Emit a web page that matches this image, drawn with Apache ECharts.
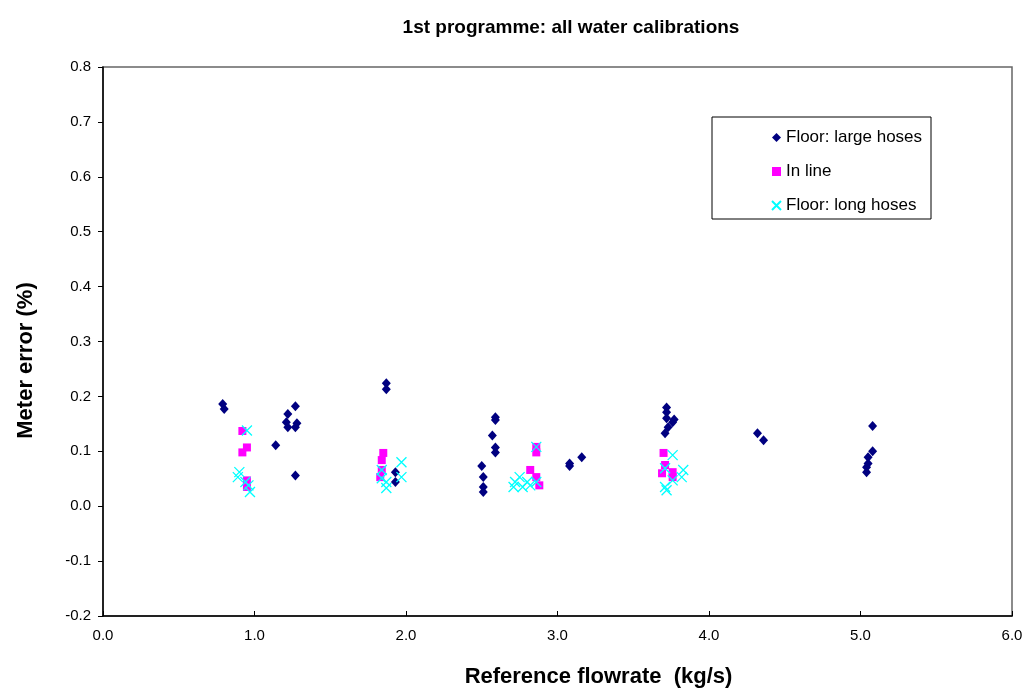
<!DOCTYPE html>
<html>
<head>
<meta charset="utf-8">
<script src="https://cdn.jsdelivr.net/npm/echarts@6/dist/echarts.min.js"></script>
<style>
  html, body { margin: 0; padding: 0; background: #fff; }
  #chart { width: 1027px; height: 688px; }
</style>
</head>
<body>
<div id="chart"></div>
<script>
// Reference flowrate (kg/s) and meter error (%) for each calibration group
const largeHoses = [
  [0.79, 0.186], [0.80, 0.177], [1.14, 0.111],
  [1.27, 0.182], [1.22, 0.168], [1.21, 0.153], [1.28, 0.151], [1.22, 0.144], [1.27, 0.144], [1.27, 0.056],
  [1.87, 0.224], [1.87, 0.213], [1.93, 0.062], [1.93, 0.044],
  [2.59, 0.162], [2.59, 0.157], [2.57, 0.129], [2.59, 0.107], [2.59, 0.098],
  [2.50, 0.073], [2.51, 0.053], [2.51, 0.035], [2.51, 0.026],
  [3.08, 0.078], [3.08, 0.073], [3.16, 0.089],
  [3.72, 0.180], [3.72, 0.171], [3.72, 0.160], [3.76, 0.153], [3.77, 0.158], [3.73, 0.144], [3.71, 0.133],
  [4.32, 0.133], [4.36, 0.120],
  [5.08, 0.146], [5.08, 0.100], [5.05, 0.089], [5.05, 0.078], [5.04, 0.071], [5.04, 0.062]
];
const inLine = [
  [0.92, 0.137], [0.95, 0.107], [0.92, 0.098], [0.95, 0.047], [0.95, 0.035],
  [1.85, 0.097], [1.84, 0.084], [1.84, 0.066], [1.83, 0.053],
  [2.86, 0.108], [2.86, 0.098], [2.82, 0.066], [2.86, 0.053], [2.88, 0.038],
  [3.70, 0.097], [3.71, 0.075], [3.69, 0.060], [3.76, 0.062], [3.76, 0.053]
];
const longHoses = [
  [0.95, 0.138], [0.90, 0.062], [0.89, 0.053], [0.96, 0.038], [0.97, 0.026], [0.94, 0.044],
  [1.97, 0.080], [1.97, 0.053], [1.84, 0.066], [1.87, 0.044], [1.87, 0.033], [1.84, 0.051],
  [2.86, 0.108], [2.72, 0.044], [2.75, 0.053], [2.77, 0.035], [2.80, 0.044], [2.82, 0.038], [2.86, 0.044], [2.71, 0.035],
  [3.76, 0.093], [3.71, 0.069], [3.83, 0.066], [3.82, 0.053], [3.76, 0.047], [3.71, 0.035], [3.72, 0.029]
];

const seriesNames = ['Floor: large hoses', 'In line', 'Floor: long hoses'];
const titleText = '1st programme: all water calibrations';
const xTitle = 'Reference flowrate  (kg/s)';
const yTitle = 'Meter error (%)';

const FONT = 'Liberation Sans, Arial, sans-serif';
const crossPath = 'path://M0,0L10,10M10,0L0,10';

const chart = echarts.init(document.getElementById('chart'), null, { renderer: 'canvas' });
chart.setOption({
  animation: false,
  backgroundColor: '#ffffff',
  title: {
    text: titleText,
    left: 566,
    top: 13,
    textAlign: 'center',
    textStyle: { fontFamily: FONT, fontSize: 19, fontWeight: 'bold', color: '#000' }
  },
  grid: {
    left: 103, right: 15, top: 67, bottom: 72,
    outerBoundsMode: 'none',
    containLabel: false,
    show: true, borderColor: '#666', borderWidth: 1.5, backgroundColor: 'transparent'
  },
  graphic: [{
    type: 'rect',
    shape: { x: 712, y: 117, width: 219, height: 102 },
    style: { fill: '#fff', stroke: '#000', lineWidth: 1 },
    z: 5
  }],
  legend: {
    orient: 'vertical',
    left: 766,
    top: 124,
    itemGap: 17,
    itemWidth: 9,
    itemHeight: 9,
    z: 10,
    data: seriesNames,
    textStyle: { fontFamily: FONT, fontSize: 17, color: '#000' }
  },
  xAxis: {
    type: 'value',
    min: 0, max: 6, interval: 1,
    name: xTitle,
    nameLocation: 'middle',
    nameGap: 50,
    nameTextStyle: { fontFamily: FONT, fontSize: 22, fontWeight: 'bold', color: '#000', padding: [0, 0, 0, 82] },
    axisLine: { show: true, onZero: false, lineStyle: { color: '#000', width: 1.5 } },
    axisTick: { show: true, inside: true, length: 5, lineStyle: { color: '#000' } },
    axisLabel: { fontFamily: FONT, fontSize: 15, color: '#000', margin: 12, formatter: v => v.toFixed(1) },
    splitLine: { show: false }
  },
  yAxis: {
    type: 'value',
    min: -0.2, max: 0.8, interval: 0.1,
    name: yTitle,
    nameLocation: 'middle',
    nameGap: 66,
    nameRotate: 90,
    nameTextStyle: { fontFamily: FONT, fontSize: 22, fontWeight: 'bold', color: '#000', padding: [0, 38, 0, 0] },
    axisLine: { show: true, onZero: false, lineStyle: { color: '#000', width: 1.5 } },
    axisTick: { show: true, inside: false, length: 5, lineStyle: { color: '#000' } },
    axisLabel: { fontFamily: FONT, fontSize: 15, color: '#000', margin: 12, formatter: v => v.toFixed(1) },
    splitLine: { show: false }
  },
  series: [
    {
      name: seriesNames[0], type: 'scatter', data: largeHoses,
      symbol: 'diamond', symbolSize: [9, 10],
      itemStyle: { color: '#000080', opacity: 1 }
    },
    {
      name: seriesNames[1], type: 'scatter', data: inLine,
      symbol: 'rect', symbolSize: 8,
      itemStyle: { color: '#FF00FF', opacity: 1 }
    },
    {
      name: seriesNames[2], type: 'scatter', data: longHoses,
      symbol: crossPath, symbolSize: 10,
      itemStyle: { color: 'transparent', borderColor: '#00FFFF', borderWidth: 1.3, opacity: 1 }
    }
  ]
});
</script>
</body>
</html>
